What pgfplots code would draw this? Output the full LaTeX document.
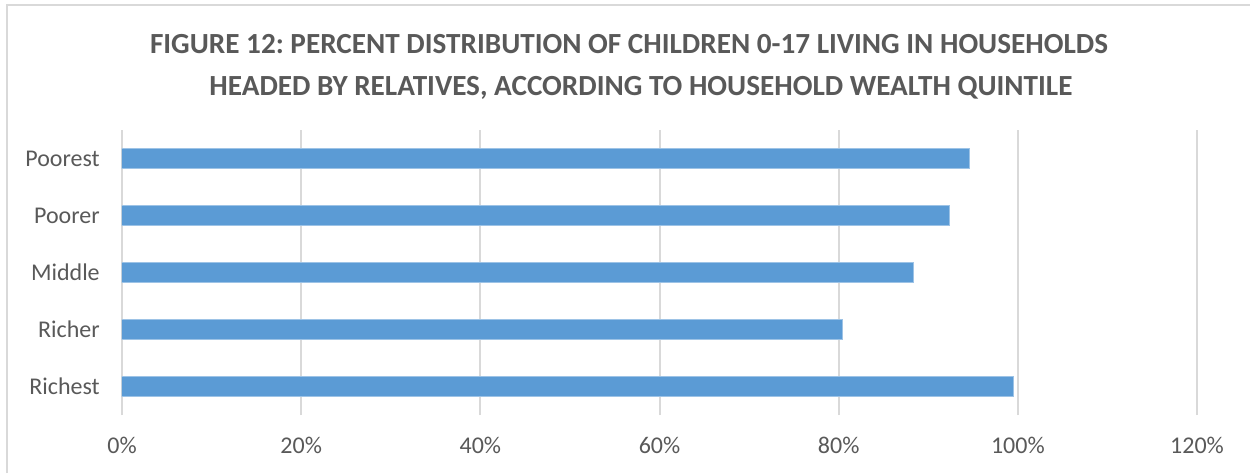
\documentclass[border=0pt]{standalone}
\usepackage{pgfplots}
\pgfplotsset{compat=1.18}
\usepackage{fontspec}
\setmainfont{Carlito}
\frenchspacing
\definecolor{barblue}{HTML}{5B9BD5}
\definecolor{txt}{HTML}{595959}
\definecolor{gridc}{HTML}{D9D9D9}
\begin{document}
\begin{tikzpicture}[x=0.5pt,y=0.5pt]
\path[use as bounding box] (0,0) rectangle (1250,473);
\draw[gridc, line width=1.2pt] (7,0) -- (7,468) -- (1250,468);
\node[anchor=base, font=\fontsize{14.6}{17}\selectfont\bfseries, text=txt] at (629,420) {FIGURE 12: PERCENT DISTRIBUTION OF CHILDREN 0-17 LIVING IN HOUSEHOLDS};
\node[anchor=base, font=\fontsize{14.6}{17}\selectfont\bfseries, text=txt] at (641,378) {HEADED BY RELATIVES, ACCORDING TO HOUSEHOLD WEALTH QUINTILE};
\begin{axis}[
  at={(61pt,29pt)}, anchor=south west,
  scale only axis, width=537.5pt, height=142.5pt,
  xbar, bar width=10pt,
  xmin=0, xmax=120, ymin=-0.5, ymax=4.5,
  ytick={0,1,2,3,4},
  yticklabels={Richest,Richer,Middle,Poorer,Poorest},
  xtick={0,20,40,60,80,100,120},
  xticklabel={\pgfmathprintnumber{\tick}\%},
  /pgf/number format/assume math mode=true,
  xmajorgrids, grid style={gridc, line width=1pt},
  axis line style={draw=none},
  major tick length=0pt,
  tick label style={font=\fontsize{12}{14}\selectfont, text=txt},
  xticklabel style={yshift=-7.3pt},
  yticklabel style={xshift=-7.6pt},
]
\addplot[fill=barblue, draw=barblue!60!white, line width=0.5pt] coordinates {
  (99.5,0) (80.4,1) (88.4,2) (92.4,3) (94.6,4)
};
\end{axis}
\end{tikzpicture}
\end{document}
